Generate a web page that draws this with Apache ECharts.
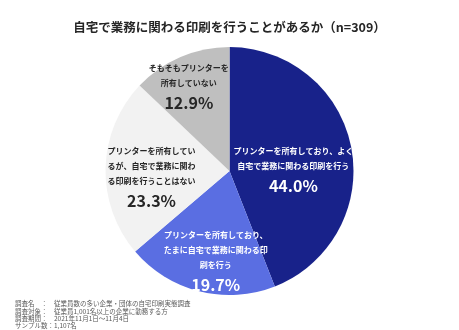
<!DOCTYPE html>
<html><head><meta charset="utf-8">
<script src="https://cdn.jsdelivr.net/npm/echarts@6/dist/echarts.min.js"></script>
<style>html,body{margin:0;padding:0;background:#fff}#c{width:459px;height:330px}</style>
</head><body><div id="c"></div>
<script>
const titleText = '自宅で業務に関わる印刷を行うことがあるか（n=309）';
const categories = [
  'プリンターを所有しており、よく自宅で業務に関わる印刷を行う',
  'プリンターを所有しており、たまに自宅で業務に関わる印刷を行う',
  'プリンターを所有しているが、自宅で業務に関わる印刷を行うことはない',
  'そもそもプリンターを所有していない'
];
const labelLines = [
  ['プリンターを所有しており、よく', '自宅で業務に関わる印刷を行う'],
  ['プリンターを所有しており、', 'たまに自宅で業務に関わる印', '刷を行う'],
  ['プリンターを所有してい', 'るが、自宅で業務に関わ', 'る印刷を行うことはない'],
  ['そもそもプリンターを', '所有していない']
];
const values = [44.0, 19.7, 23.3, 12.9];
const colors = ['#18228a', '#5a6ee2', '#f2f2f2', '#bfbfbf'];
const labelColors = ['#ffffff', '#ffffff', '#262626', '#262626'];
const labelShift = [[0, 12], [2, 28], [-13, 9], [-15, -23]];
const footLines = [
  '調査名　：　従業員数の多い企業・団体の自宅印刷実態調査',
  '調査対象：　従業員1,001名以上の企業に勤務する方',
  '調査期間：　2021年11月1日～11月4日',
  'サンプル数：1,107名'
];
const FONT = '"Noto Sans CJK JP", "Noto Sans", sans-serif';

const chart = echarts.init(document.getElementById('c'), null, {renderer: 'canvas'});
chart.setOption({
  animation: false,
  backgroundColor: '#fff',
  title: [
    {text: titleText, left: 'center', top: 16,
     textStyle: {fontFamily: FONT, fontSize: 12.5, fontWeight: 'bold', color: '#262626'}},
    {text: footLines.join('\n'), left: 10, top: 295,
     textStyle: {fontFamily: FONT, fontSize: 6.5, fontWeight: 'normal', color: '#595959', lineHeight: 7.4}}
  ],
  series: [{
    type: 'pie',
    center: [229.5, 171],
    radius: 124,
    startAngle: 90,
    clockwise: true,
    avoidLabelOverlap: false,
    itemStyle: {borderWidth: 0},
    label: {position: 'inside'},
    labelLine: {show: false},
    labelLayout: function (p) {
      return {dx: labelShift[p.dataIndex][0], dy: labelShift[p.dataIndex][1]};
    },
    data: values.map((v, i) => ({
      name: categories[i],
      value: v,
      itemStyle: {color: colors[i]},
      label: {
        formatter: '{t|' + labelLines[i].join('}\n{t|') + '}\n{p|' + v.toFixed(1) + '%}',
        rich: {
          t: {fontFamily: FONT, fontSize: 8, fontWeight: 'bold', lineHeight: 15, color: labelColors[i], align: 'center'},
          p: {fontFamily: FONT, fontSize: 16, fontWeight: 'bold', lineHeight: 25, color: labelColors[i], align: 'center'}
        }
      }
    }))
  }]
});
</script>
</body></html>
